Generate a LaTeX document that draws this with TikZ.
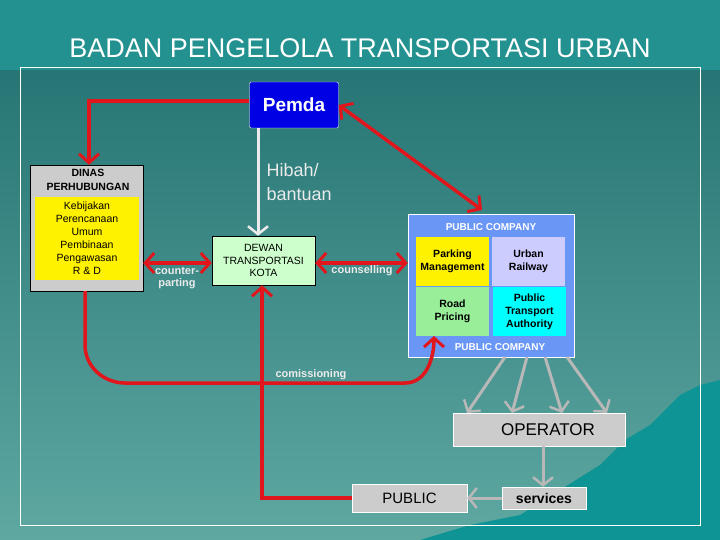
\documentclass[tikz,border=0pt]{standalone}
\usepackage{fontspec}
\setmainfont{Liberation Sans}
\usetikzlibrary{arrows.meta}
\definecolor{bgtop}{HTML}{1E6E6E}
\definecolor{bgbot}{HTML}{5FA8A2}
\definecolor{band}{HTML}{22918F}
\definecolor{redl}{HTML}{E0161C}
\definecolor{grayl}{HTML}{B8B8B8}
\definecolor{pcblue}{HTML}{6A97F5}
\definecolor{mount}{HTML}{0E9494}
\definecolor{cyanc}{HTML}{00FFFF}
\definecolor{lav}{HTML}{CCCCFF}
\definecolor{lgreen}{HTML}{99EE99}
\definecolor{pale}{HTML}{CCFFCC}
\begin{document}
\begin{tikzpicture}[x=1pt,y=-1pt,
  redc/.style={draw=redl,line width=3.5pt,-{Straight Barb[length=9pt,width=20pt,line width=3pt]}},
  redd/.style={redc,{Straight Barb[length=9pt,width=20pt,line width=3pt]}-{Straight Barb[length=9pt,width=20pt,line width=3pt]}},
  grayc/.style={draw=grayl,line width=3pt,-{Straight Barb[length=8pt,width=20pt,line width=2.5pt]}},
  box/.style={draw=black,thin,align=center,inner sep=1pt},
  lbl/.style={text=black!8,font=\bfseries\fontsize{11}{12.5}\selectfont},
  cell/.style={align=center,font=\bfseries\fontsize{10.5}{13}\selectfont,inner sep=0pt,minimum width=73pt,minimum height=49pt}]
\useasboundingbox (0,0) rectangle (720,540);
\shade[top color=bgtop,bottom color=bgbot] (0,0) rectangle (720,540);
\fill[band] (0,0) rectangle (720,70);
\fill[mount] (420,540) -- (470,525) -- (520,515) -- (560,490) -- (600,465) -- (625,440) -- (650,425) -- (665,410) -- (680,395) -- (700,385) -- (720,380) -- (720,540) -- cycle;
\draw[black!70,line width=1pt] (20,68) -- (700,68);
\draw[white,line width=1pt] (20,68) rectangle (700,525);
\node[white,font=\fontsize{27}{29}\selectfont] (title) at (360,48) {BADAN PENGELOLA TRANSPORTASI URBAN};

\node[draw=white,fill=blue!90!black,rounded corners=2pt,minimum width=89pt,minimum height=46pt,text=white,font=\bfseries\fontsize{19}{21}\selectfont] (pemda) at (294,105) {Pemda};

\node[box,fill=black!20,minimum width=113pt,minimum height=126pt] (dinas) at (86.5,228) {};
\node[font=\bfseries\fontsize{10.5}{14}\selectfont,align=center] (dinast) at (88,180) {DINAS\\PERHUBUNGAN};
\node[fill=yellow,minimum width=104pt,minimum height=83pt,inner sep=0pt,align=center,font=\fontsize{10.5}{13}\selectfont] (yel) at (87,238.5) {Kebijakan\\Perencanaan\\Umum\\Pembinaan\\Pengawasan\\R \& D};

\node[box,fill=pale,minimum width=103pt,minimum height=49pt,font=\fontsize{10.5}{12.5}\selectfont] (dewan) at (263.5,260.5) {DEWAN\\TRANSPORTASI\\KOTA};

\node[draw=white,fill=pcblue,minimum width=166pt,minimum height=143pt] (pc) at (491,285.5) {};
\node[white,font=\bfseries\fontsize{10}{11}\selectfont] (pct) at (491,227) {PUBLIC COMPANY};
\node[white,font=\bfseries\fontsize{10}{11}\selectfont] (pcb) at (500,347) {PUBLIC COMPANY};
\node[cell,fill=yellow] (park) at (452.5,261) {Parking\\Management};
\node[cell,fill=lav] (rail) at (528.5,261) {Urban\\Railway};
\node[cell,fill=lgreen] (road) at (452.5,311.5) {Road\\Pricing};
\node[cell,fill=cyanc] (pta) at (529.5,311.5) {Public\\Transport\\Authority};

\node[draw=white,fill=black!20,minimum width=172pt,minimum height=33pt,font=\fontsize{17}{19}\selectfont] (op) at (539,429.5) {\hspace{18pt}OPERATOR};
\node[draw=white,fill=black!20,minimum width=115pt,minimum height=28pt,font=\fontsize{15}{17}\selectfont] (public) at (409.5,498) {PUBLIC};
\node[draw=white,fill=black!20,minimum width=84pt,minimum height=22pt,inner sep=0pt,font=\bfseries\fontsize{14}{16}\selectfont] (serv) at (544,498) {services};

\node[text=black!8,align=left,font=\fontsize{18}{24}\selectfont,anchor=west] (hibah) at (263,182) {Hibah/\\bantuan};
\node[lbl,align=center] (cp) at (177,278) {counter-\\parting};
\node[lbl] (cs) at (362,271) {counselling};
\node[lbl] (cm) at (311,375) {comissioning};

% connectors
\draw[grayc,draw=black!8] (pemda.south -| 258,0) -- (dewan.north -| 258,0);
\draw[redc] (pemda.west |- 0,101) -| (dinas.north -| 89,0);
\draw[redd] (pemda.east) -- (482,210);
\draw[redd] (dinas.east |- 0,263) -- (dewan.west |- 0,263);
\draw[redd] (dewan.east |- 0,263) -- (pc.west |- 0,263);
\draw[redc] (dinas.south -| 85,0) -- (85,345) to[out=-90,in=180] (125,383) -- (405,383) to[out=0,in=-90] (434,336);
\draw[redc] (public.west) -| (dewan.south -| 262,0);
\draw[grayc] (505,357) -- (467,413);
\draw[grayc] (527,357) -- (512,413);
\draw[grayc] (545,357) -- (562,413);
\draw[grayc] (567,357) -- (607,413);
\draw[grayc] (op.south -| 543,0) -- (serv.north -| 543,0);
\draw[grayc] (serv.west) -- (public.east);
\end{tikzpicture}
\end{document}
